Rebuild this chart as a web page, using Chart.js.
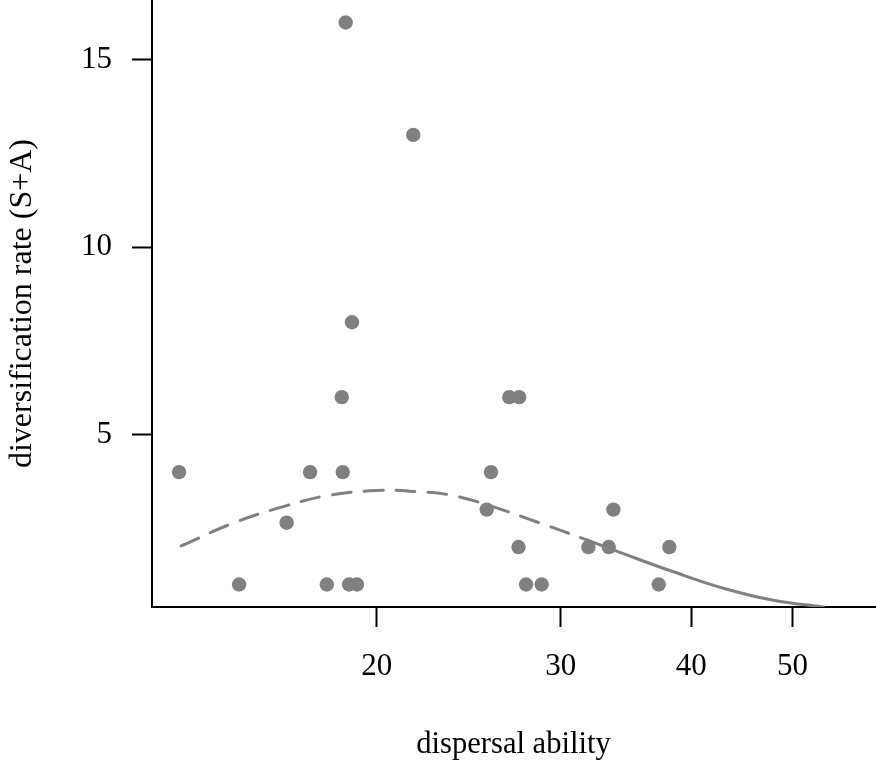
<!DOCTYPE html>
<html>
<head>
<meta charset="utf-8">
<script src="https://cdn.jsdelivr.net/npm/chart.js@4/dist/chart.umd.min.js"></script>
<style>
  html, body { margin: 0; padding: 0; background: #ffffff; }
  #c { display: block; }
</style>
</head>
<body>
<canvas id="c" width="876" height="761"></canvas>
<script>
// observed points: dispersal ability (x, log axis) vs diversification rate (y)
const dispersal = [12.94, 14.77, 16.40, 17.27, 17.92, 18.52, 18.56, 18.68, 18.82, 18.94, 19.15,
                   21.68, 25.49, 25.73, 26.79, 27.34, 27.38, 27.80, 28.77, 31.89, 33.36, 33.70, 37.24, 38.12];
const diversification = [4, 1, 2.65, 4, 1, 6, 4, 16, 1, 8, 1,
                         13, 3, 4, 6, 2, 6, 1, 1, 2, 2, 3, 1, 2];

// fitted curve (dashed part below ~32, solid above)
const curveX = [13.00, 14.58, 16.28, 17.92, 20.00, 21.85, 23.51, 25.49, 28.67, 31.78, 34.70, 38.46, 42.94, 47.94, 53.53];
const curveY = [2.03, 2.64, 3.08, 3.37, 3.51, 3.48, 3.39, 3.13, 2.64, 2.19, 1.79, 1.34, 0.90, 0.58, 0.40];
const dashLimit = 31.78;

const xTicks = [20, 30, 40, 50];
const yTicks = [5, 10, 15];

const xTitle = 'dispersal ability';
const yTitle = 'diversification rate (S+A)';

const grey = '#808080';
const family = '"Liberation Serif", "Times New Roman", serif';
const tickFont = { family: family, size: 31, lineHeight: 1 };
const xTitleFont = { family: family, size: 30.6, lineHeight: 1 };
const yTitleFont = { family: family, size: 32, lineHeight: 1 };

const points = dispersal.map((x, i) => ({ x: x, y: diversification[i] }));
const curve = curveX.map((x, i) => ({ x: x, y: curveY[i] }));

new Chart(document.getElementById('c'), {
  type: 'scatter',
  data: {
    datasets: [
      {
        type: 'line',
        data: curve,
        borderColor: grey,
        borderWidth: 3,
        borderCapStyle: 'round',
        pointRadius: 0,
        tension: 0.4,
        fill: false,
        segment: {
          borderDash: ctx => (ctx.p1.parsed.x <= dashLimit ? [19, 13] : undefined)
        }
      },
      {
        data: points,
        backgroundColor: grey,
        borderColor: grey,
        borderWidth: 0,
        pointRadius: 7.2,
        pointHoverRadius: 7.2
      }
    ]
  },
  options: {
    responsive: false,
    animation: false,
    events: [],
    layout: { padding: { top: 0, right: 1, left: 0, bottom: 0 }, autoPadding: false },
    plugins: { legend: { display: false }, tooltip: { enabled: false } },
    scales: {
      x: {
        type: 'logarithmic',
        min: 12.19,
        max: 59.98,
        afterBuildTicks: s => { s.ticks = xTicks.map(v => ({ value: v })); },
        afterFit: s => { s.height = 154; s.paddingLeft = 0; s.paddingRight = 0; },
        grid: { drawOnChartArea: false, drawTicks: true, tickLength: 20, tickColor: '#000', tickWidth: 2, color: '#000' },
        border: { display: true, color: '#000', width: 2 },
        ticks: { color: '#000', font: tickFont, padding: 24, maxRotation: 0, autoSkip: false,
                 callback: (v) => String(v) },
        title: { display: true, text: xTitle, color: '#000', font: xTitleFont, padding: { top: 0, bottom: 1 } }
      },
      y: {
        min: 0.4,
        max: 16.6,
        afterBuildTicks: s => { s.ticks = yTicks.map(v => ({ value: v })); },
        afterFit: s => { s.width = 152; s.paddingTop = 0; s.paddingBottom = 0; },
        grid: { drawOnChartArea: false, drawTicks: true, tickLength: 20, tickColor: '#000', tickWidth: 2, color: '#000' },
        border: { display: true, color: '#000', width: 2 },
        ticks: { color: '#000', font: tickFont, padding: 20, callback: (v) => String(v) },
        title: { display: true, text: yTitle, color: '#000', font: yTitleFont, padding: { top: 7, bottom: 0 } }
      }
    }
  }
});
</script>
</body>
</html>
